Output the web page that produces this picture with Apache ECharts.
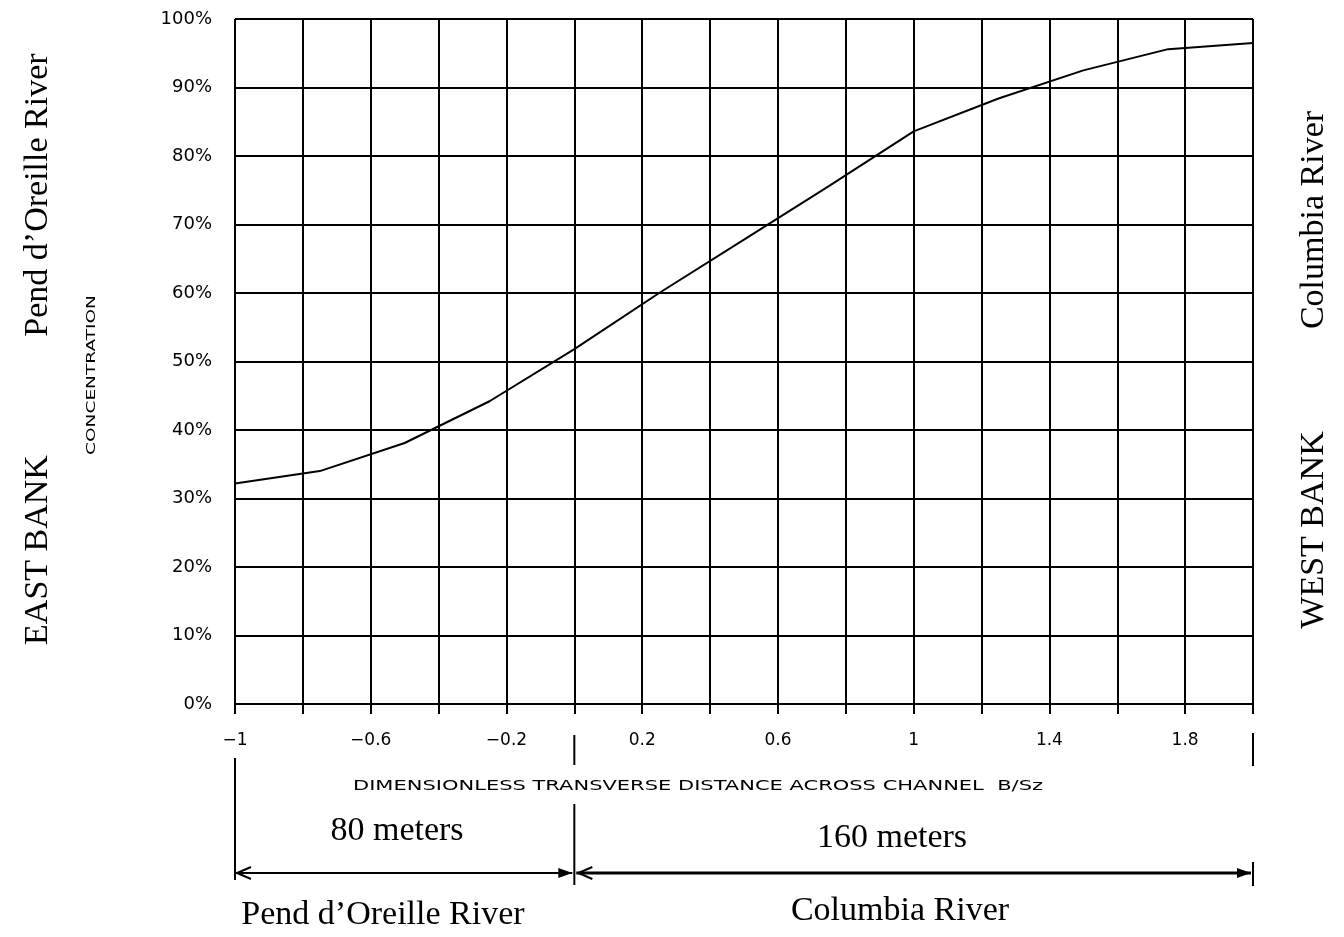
<!DOCTYPE html>
<html><head><meta charset="utf-8">
<script src="https://cdn.jsdelivr.net/npm/echarts@6/dist/echarts.min.js"></script>
<style>html,body{margin:0;padding:0;background:#fff}#c{width:1344px;height:937px}</style>
</head><body><div id="c"></div>
<script>
// Data
const xValues = [-1, -0.75, -0.5, -0.25, 0, 0.25, 0.5, 0.75, 1, 1.25, 1.5, 1.75, 2];
const concentration = [32.2, 34.0, 38.1, 44.2, 51.8, 60.0, 67.8, 75.6, 83.6, 88.4, 92.5, 95.6, 96.5];
const xLabelShown = ['-1', '-0.6', '-0.2', '0.2', '0.6', '1', '1.4', '1.8'];
const yTicks = ['0%','10%','20%','30%','40%','50%','60%','70%','80%','90%','100%'];
const xTitle = 'DIMENSIONLESS TRANSVERSE DISTANCE ACROSS CHANNEL  B/Sz';
const yTitle = 'CONCENTRATION';
const segLabels = ['80 meters', '160 meters'];
const riverLabels = ["Pend d\u2019Oreille River", 'Columbia River'];
const bankLabels = ['EAST BANK', 'WEST BANK'];

const chart = echarts.init(document.getElementById('c'), null, {renderer: 'canvas'});
const sans = 'DejaVu Sans';
const serif = 'Liberation Serif';
const pts = xValues.map((x, i) => [x, concentration[i]]);

chart.setOption({
  animation: false,
  backgroundColor: '#fff',
  grid: {left: 235, right: 91, top: 19, bottom: 233, show: false},
  xAxis: {
    type: 'value', min: -1, max: 2, interval: 0.2,
    axisLine: {show: true, lineStyle: {color: '#000', width: 2}},
    axisTick: {show: true, length: 10, lineStyle: {color: '#000', width: 2}},
    splitLine: {show: true, lineStyle: {color: '#000', width: 2}},
    axisLabel: {
      margin: 28, color: '#000', fontFamily: sans, fontSize: 17,
      formatter: function (v) {
        const s = String(Math.round(v * 10) / 10);
        return xLabelShown.indexOf(s) >= 0 ? s.replace('-', '\u2212') : '';
      }
    }
  },
  yAxis: {
    type: 'value', min: 0, max: 100, interval: 10,
    axisLine: {show: true, lineStyle: {color: '#000', width: 2}},
    axisTick: {show: true, length: 11, lineStyle: {color: '#000', width: 2}},
    splitLine: {show: true, lineStyle: {color: '#000', width: 2}},
    axisLabel: {
      margin: 23, color: '#000', fontFamily: sans, fontSize: 18,
      formatter: function (v) { return yTicks[Math.round(v / 10)]; }
    }
  },
  series: [{
    type: 'line', data: pts, showSymbol: false, symbol: 'none',
    lineStyle: {color: '#000', width: 2}, z: 5
  }]
});

// Annotations anchored to the axis scale
const px = x => chart.convertToPixel({gridIndex: 0}, [x, 0]);
const xL = px(-1)[0], x0 = px(0)[0], xR = px(2)[0];
const arrowY = 873;
const mctx = document.createElement('canvas').getContext('2d');
const fit = (t, font, size, target) => { mctx.font = size + 'px "' + font + '"'; return target / mctx.measureText(t).width; };
const ln = (x1, y1, x2, y2, w) => ({type: 'line', shape: {x1, y1, x2, y2}, style: {stroke: '#000', lineWidth: w || 2}});
const headOpen = (x, y, dir) => ({type: 'polyline', shape: {points: [[x + dir * 14, y - 6], [x, y], [x + dir * 14, y + 6]]}, style: {stroke: '#000', lineWidth: 2, fill: null}});
const headFill = (x, y, dir) => ({type: 'polygon', shape: {points: [[x + dir * 14, y - 5], [x, y], [x + dir * 14, y + 5]]}, style: {fill: '#000'}});
const txt = (x, y, t, font, size, rot, sx) => ({
  type: 'text', x, y, rotation: rot || 0, scaleX: sx || 1,
  style: {text: t, fontFamily: font, fontSize: size, fill: '#000', align: 'center', verticalAlign: 'middle'}
});
const R = Math.PI / 2;

chart.setOption({
  graphic: [
    // bracket verticals
    ln(xL, 758, xL, 880), ln(x0, 735, x0, 765), ln(x0, 804, x0, 885), ln(xR, 733, xR, 766), ln(xR, 862, xR, 886),
    // arrows
    ln(xL + 1, arrowY, x0 - 2, arrowY, 2), headOpen(xL + 2, arrowY, 1), headFill(x0 - 2, arrowY, -1),
    ln(x0 + 2, arrowY, xR - 2, arrowY, 3), headOpen(x0 + 4, arrowY, 1), headFill(xR - 2, arrowY, -1),
    txt(698, 786, xTitle, sans, 14, 0, fit(xTitle, sans, 14, 690)),
    txt(397, 831, segLabels[0], serif, 34),
    txt(892, 838, segLabels[1], serif, 34),
    txt(383, 915, riverLabels[0], serif, 34),
    txt(900, 911, riverLabels[1], serif, 34),
    txt(38, 195, riverLabels[0], serif, 34, R),
    txt(38, 550, bankLabels[0], serif, 34, R),
    txt(92, 375, yTitle, sans, 12, R, fit(yTitle, sans, 12, 160)),
    txt(1314, 220, riverLabels[1], serif, 34, R),
    txt(1314, 530, bankLabels[1], serif, 34, R)
  ]
});
</script></body></html>
